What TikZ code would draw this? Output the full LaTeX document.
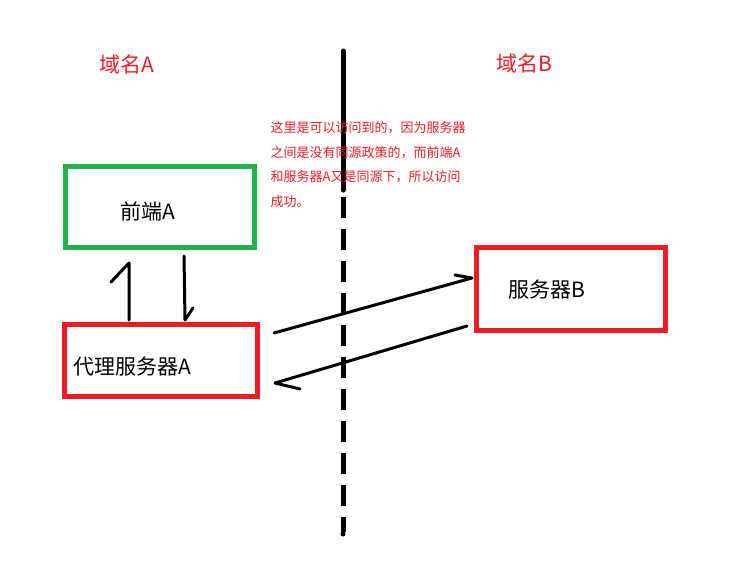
\documentclass[tikz,border=0pt]{standalone}
\usepackage{fontspec}
\newfontfamily\cjk{Noto Sans CJK SC}
\definecolor{pred}{HTML}{ED1C24}
\definecolor{pgreen}{HTML}{22B14C}
\begin{document}
\begin{tikzpicture}[x=1pt,y=-1pt,
  box/.style={draw,line width=5pt,minimum width=#1},
  big/.style={font=\cjk\fontsize{21}{25}\selectfont},
  redlabel/.style={big,text=pred},
  sketch/.style={line width=3pt,line cap=round,line join=round}]
\useasboundingbox[fill=white] (0,0) rectangle (732,563);
% divider
\draw[line width=5pt,line cap=round] (343,51) -- (343,190);
\draw[line width=5pt,dash pattern=on 21pt off 11pt] (343,197) -- (343,532);
\fill (343,534) circle (2.5pt);
% boxes
\draw[pgreen,line width=5pt] (65.5,166.5) rectangle (254.5,247.5);
\coordinate (gtop) at (65.5,166.5);
\draw[pred,line width=5pt] (64,324.5) rectangle (257,396);
\draw[pred,line width=5pt] (476.5,247) rectangle (665,330.5);
% labels
\node[redlabel] (da) at (127,64) {域名A};
\node[redlabel] (db) at (524,63) {域名B};
\node[big] (fa) at (148,211) {前端A};
\node[big] (pa) at (132,367) {代理服务器A};
\node[big] (sb) at (547,290) {服务器B};
\node[font=\cjk\fontsize{13}{24.6}\selectfont,text=pred,align=left,anchor=north west,inner sep=0pt] (note) at (270.5,121.5)
 {这里是可以访问到的，因为服务器\\之间是没有同源政策的，而前端A\\和服务器A又是同源下，所以访问\\成功。};
% arrows
\coordinate (u1) at (129,320); \coordinate (u2) at (129,263); \coordinate (u3) at (111,282);
\coordinate (d1) at (184,256); \coordinate (d2) at (185,320); \coordinate (d3) at (193,308);
\coordinate (r1) at (274,333); \coordinate (r2) at (472,278); \coordinate (r3) at (455,275);
\coordinate (l1) at (467,326); \coordinate (l2) at (275,383); \coordinate (l3) at (300,389);
\draw[sketch] (u1) -- (u2) -- (u3);
\draw[sketch] (d1) -- (d2) -- (d3);
\draw[sketch] (r1) -- (r2) -- (r3);
\draw[sketch] (l1) -- (l2) -- (l3);
\end{tikzpicture}
\end{document}
